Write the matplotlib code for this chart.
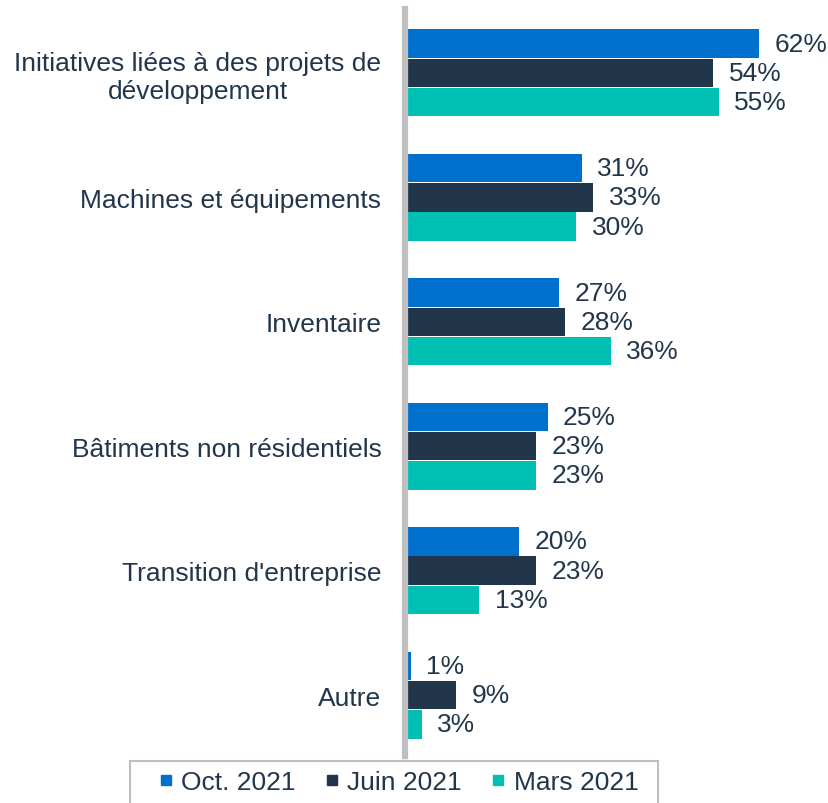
import numpy as np
import matplotlib.pyplot as plt
from matplotlib.lines import Line2D
from matplotlib.patches import Rectangle

plt.rcParams['font.family'] = ['Liberation Sans', 'DejaVu Sans']

categories = [
    "Initiatives liées à des projets de\ndéveloppement",
    "Machines et équipements",
    "Inventaire",
    "Bâtiments non résidentiels",
    "Transition d'entreprise",
    "Autre",
]
series_names = ["Oct. 2021", "Juin 2021", "Mars 2021"]
oct_2021 = [62, 31, 27, 25, 20, 1]
juin_2021 = [54, 33, 28, 23, 23, 9]
mars_2021 = [55, 30, 36, 23, 13, 3]
colors = ['#0070CD', '#22364B', '#00BFB3']
text_color = '#22364B'

fig = plt.figure(figsize=(8.29, 8.04), dpi=100)
W, H = 829, 804
ax = fig.add_axes([405 / W, 1 - 757 / H, (W - 405) / W, (757 - 10) / H])

y = np.arange(len(categories))
bh = 0.229
offsets = [-0.235, 0, 0.235]
for vals, off, c in zip([oct_2021, juin_2021, mars_2021], offsets, colors):
    bars = ax.barh(y + off, vals, height=bh, color=c, zorder=2)
    for b, v in zip(bars, vals):
        ax.annotate(f"{v}%", (b.get_width(), b.get_y() + b.get_height() / 2),
                    xytext=(11, 0), textcoords='offset points',
                    va='center', ha='left', fontsize=19, color=text_color)

ax.set_xlim(0, (W - 405) / 5.71)
ax.set_ylim(5.49, -0.514)
ax.set_yticks(y)
ax.set_yticklabels(categories, fontsize=19, color=text_color, multialignment='center')
ax.tick_params(axis='y', length=0, pad=17)
ax.set_xticks([])
for s in ['top', 'right', 'bottom']:
    ax.spines[s].set_visible(False)
ax.spines['left'].set_color('#BFBFBF')
ax.spines['left'].set_linewidth(4.5)
ax.spines['left'].set_zorder(3)

# legend box drawn by hand, bottom runs off the canvas like the original
fig.patches.append(Rectangle((130 / W, -0.02), (658 - 130) / W, 0.02 + 1 - 762 / H,
                             transform=fig.transFigure, facecolor='none',
                             edgecolor='#BFBFBF', linewidth=1.5))
handles = [Line2D([], [], marker='s', linestyle='none', color=c, markersize=7)
           for c in colors]
fig.legend(handles, series_names, loc='center', ncol=3,
           bbox_to_anchor=(398 / W, 1 - 783 / H), fontsize=19, frameon=False,
           handlelength=0.6, handletextpad=0.3, columnspacing=1.05,
           borderpad=0.0, labelcolor=text_color)

fig.savefig('out.png', dpi=100)
